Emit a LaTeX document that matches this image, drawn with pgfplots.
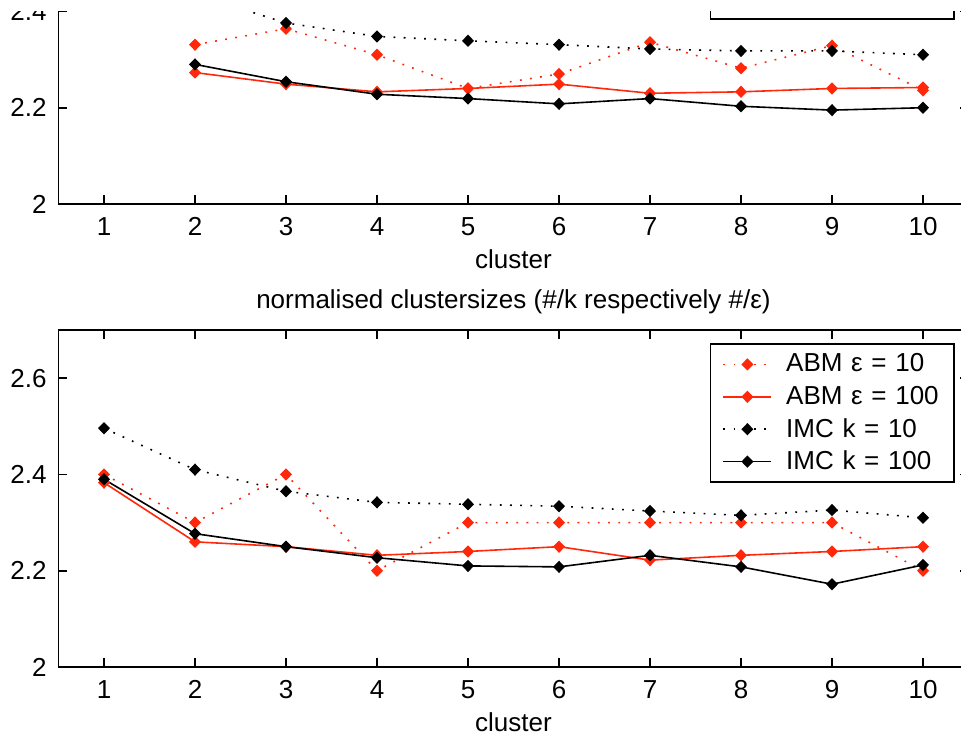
\documentclass[border=0pt]{standalone}
\usepackage{fontspec}
\setmainfont{Liberation Sans}
\usepackage{pgfplots}
\pgfplotsset{compat=1.18}
\definecolor{mred}{RGB}{255,40,10}
\newcommand{\ff}{\fontsize{13}{15.5}\selectfont}

\pgfplotsset{
 myax/.style={
  scale only axis, width=455pt, height=168.5pt,
  xmin=0.5, xmax=10.5, ymin=2, ymax=2.7,
  xtick={1,...,10}, ytick={2,2.2,2.4,2.6},
  tick align=inside, major tick length=4.5pt,
  axis line style={line width=0.8pt},
  every tick/.style={black, line width=0.8pt},
  /pgf/number format/assume math mode=true,
  tick label style={font=\ff},
  label style={font=\ff},
  title style={font=\ff},
  yticklabel style={anchor=east, inner sep=0pt, xshift=-5.75pt, /pgf/number format/fixed},
  xticklabel style={anchor=base, yshift=-15.5pt},
  xlabel={cluster},
  xlabel style={at={(axis description cs:0.5,0)}, anchor=base, yshift=-32pt},
  legend style={at={(0.98516,0.96142)}, anchor=north east, draw=black, line width=0.8pt,
    font=\ff, inner xsep=6pt, inner ysep=2.2pt, row sep=0pt,
    cells={anchor=west}, nodes={inner ysep=0pt, inner xsep=0pt, minimum height=16.2pt},
    /tikz/every odd column/.append style={column sep=7pt},
    /tikz/every even column/.append style={nodes={text width=78pt}}},
  legend image code/.code={\draw[mark repeat=2,mark phase=2] plot coordinates {(0pt,0pt) (12pt,0pt) (24pt,0pt)};},
 },
 s1/.style={mred, line width=0.8pt, dash pattern=on 0.9pt off 4.2pt, mark=diamond*, mark size=2.5pt, mark options={solid, xscale=1.3}},
 s2/.style={mred, line width=0.8pt, solid, mark=diamond*, mark size=2.5pt, mark options={solid, xscale=1.3}},
 s3/.style={black, line width=0.8pt, dash pattern=on 0.9pt off 4.2pt, mark=diamond*, mark size=2.5pt, mark options={solid, xscale=1.3}},
 s4/.style={black, line width=0.8pt, solid, mark=diamond*, mark size=2.5pt, mark options={solid, xscale=1.3}},
}

\begin{document}
\begin{tikzpicture}
\begin{scope}
\clip (0pt,-5.9pt) rectangle (480.5pt,-366.5pt);
% top panel
\begin{axis}[myax, at={(29.25pt,-102pt)}, anchor=south west]
\addplot[s1] coordinates {(2,2.331) (3,2.364) (4,2.310) (5,2.240) (6,2.270) (7,2.336) (8,2.282) (9,2.329) (10,2.236)};
\addplot[s2] coordinates {(2,2.273) (3,2.249) (4,2.233) (5,2.240) (6,2.249) (7,2.230) (8,2.233) (9,2.240) (10,2.242)};
\addplot[s3] coordinates {(2,2.436) (3,2.376) (4,2.348) (5,2.339) (6,2.331) (7,2.322) (8,2.318) (9,2.318) (10,2.310)};
\addplot[s4] coordinates {(2,2.290) (3,2.254) (4,2.228) (5,2.219) (6,2.208) (7,2.219) (8,2.203) (9,2.195) (10,2.200)};
\legend{ABM ε = 10, ABM ε = 100, IMC k = 10, IMC k = 100}
\end{axis}
% bottom panel
\begin{axis}[myax, at={(29.25pt,-333.5pt)}, anchor=south west,
  title={normalised clustersizes (\#/k respectively \#/ε)},
  title style={at={(axis description cs:0.5,1)}, anchor=base, yshift=4.8pt}]
\addplot[s1] coordinates {(1,2.4) (2,2.3) (3,2.4) (4,2.2) (5,2.3) (6,2.3) (7,2.3) (8,2.3) (9,2.3) (10,2.2)};
\addplot[s2] coordinates {(1,2.383) (2,2.260) (3,2.250) (4,2.232) (5,2.240) (6,2.250) (7,2.222) (8,2.232) (9,2.240) (10,2.250)};
\addplot[s3] coordinates {(1,2.496) (2,2.410) (3,2.365) (4,2.342) (5,2.338) (6,2.334) (7,2.324) (8,2.315) (9,2.326) (10,2.310)};
\addplot[s4] coordinates {(1,2.390) (2,2.277) (3,2.250) (4,2.227) (5,2.210) (6,2.208) (7,2.232) (8,2.208) (9,2.172) (10,2.212)};
\legend{ABM ε = 10, ABM ε = 100, IMC k = 10, IMC k = 100}
\end{axis}
\end{scope}
\pgfresetboundingbox
\useasboundingbox (0pt,0pt) rectangle (480.5pt,-366.5pt);
\end{tikzpicture}
\end{document}
